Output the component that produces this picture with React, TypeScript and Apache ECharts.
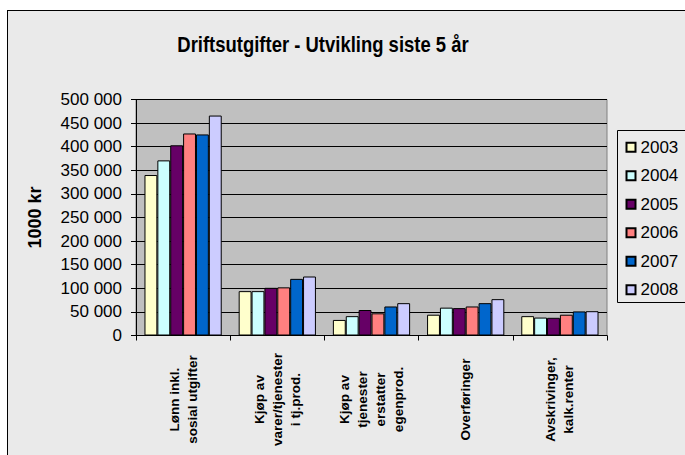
import React, { useEffect, useRef } from "react";
import * as echarts from "echarts";

const categories = [
  "Lønn inkl.\nsosial utgifter",
  "Kjøp av\nvarer/tjenester\ni tj.prod.",
  "Kjøp av\ntjenester\nerstatter\negenprod.",
  "Overføringer",
  "Avskrivinger,\nkalk.renter",
];
const years = ["2003", "2004", "2005", "2006", "2007", "2008"];
const v2003 = [340000, 94000, 33000, 44000, 41000];
const v2004 = [371000, 94000, 41000, 59000, 38000];
const v2005 = [403000, 101000, 54000, 58000, 37500];
const v2006 = [428000, 102000, 47000, 61500, 44000];
const v2007 = [426000, 120000, 61500, 68500, 51000];
const v2008 = [466000, 125000, 68500, 77000, 51500];
const seriesValues = [v2003, v2004, v2005, v2006, v2007, v2008];
const colors = ["#FFFFCC", "#CCFFFF", "#660066", "#FF8080", "#0066CC", "#CCCCFF"];
const yTicks = { min: 0, max: 500000, interval: 50000 };
const titleText = "Driftsutgifter - Utvikling siste 5 år";
const yName = "1000 kr";

const FONT = "'Liberation Sans', Arial, sans-serif";

function fmt(v: number): string {
  return String(v).replace(/\B(?=(\d{3})+(?!\d))/g, " ");
}

export default function App() {
  const ref = useRef<HTMLDivElement>(null);
  useEffect(() => {
    if (!ref.current) return;
    const chart = echarts.init(ref.current, undefined, { renderer: "svg" });
    chart.setOption({
      animation: false,
      backgroundColor: "transparent",
      textStyle: { fontFamily: FONT },
      graphic: [
        {
          type: "text",
          x: 323,
          y: 44,
          scaleX: 0.84,
          style: {
            text: titleText,
            font: `bold 22px ${FONT}`,
            fill: "#000",
            textAlign: "center",
            textVerticalAlign: "middle",
          },
        },
      ],
      grid: {
        left: 136,
        top: 99.5,
        right: 78,
        bottom: 119.5,
        show: true,
        backgroundColor: "#C0C0C0",
        borderColor: "#808080",
        borderWidth: 1,
      },
      legend: {
        orient: "vertical",
        left: 617.5,
        top: 130.5,
        data: years,
        icon: "rect",
        itemWidth: 9,
        itemHeight: 9,
        itemGap: 9,
        padding: [7, 24, 3, 8],
        borderColor: "#000",
        borderWidth: 1,
        backgroundColor: "#EAEAEA",
        textStyle: { fontSize: 17, color: "#000", fontFamily: FONT, lineHeight: 19.5 },
      },
      xAxis: {
        type: "category",
        data: categories,
        axisLine: { lineStyle: { color: "#000", width: 1 } },
        axisTick: { show: true, length: 5, lineStyle: { color: "#000" } },
        axisLabel: {
          rotate: 90,
          align: "center",
          verticalAlign: "middle",
          margin: 64,
          interval: 0,
          fontSize: 13.5,
          fontWeight: "bold",
          lineHeight: 18,
          color: "#000",
          fontFamily: FONT,
        },
        splitLine: { show: false },
      },
      yAxis: {
        type: "value",
        min: yTicks.min,
        max: yTicks.max,
        interval: yTicks.interval,
        name: yName,
        nameLocation: "middle",
        nameGap: 92,
        nameTextStyle: { fontSize: 18, fontWeight: "bold", color: "#000", fontFamily: FONT },
        axisLine: { show: true, lineStyle: { color: "#000", width: 1 } },
        axisTick: { show: true, length: 5, lineStyle: { color: "#000" } },
        axisLabel: {
          formatter: (v: number) => fmt(v),
          fontSize: 17,
          color: "#000",
          margin: 14,
          fontFamily: FONT,
        },
        splitLine: { show: true, lineStyle: { color: "#000", width: 1 } },
      },
      series: years.map((y, i) => ({
        name: y,
        type: "bar",
        data: seriesValues[i],
        barGap: "0%",
        barCategoryGap: "18%",
        itemStyle: { color: colors[i], borderColor: "#000", borderWidth: 1 },
      })),
    });
    return () => chart.dispose();
  }, []);
  return (
    <div style={{ position: "fixed", left: 0, top: 0, width: 685, height: 455, background: "#fff", overflow: "hidden" }}>
      <div
        style={{
          position: "absolute",
          left: 6.5,
          top: 9.5,
          width: 700,
          height: 470,
          background: "#EAEAEA",
          border: "1.5px solid #000",
        }}
      />
      <div ref={ref} style={{ position: "absolute", left: 0, top: 0, width: 685, height: 455 }} />
    </div>
  );
}
